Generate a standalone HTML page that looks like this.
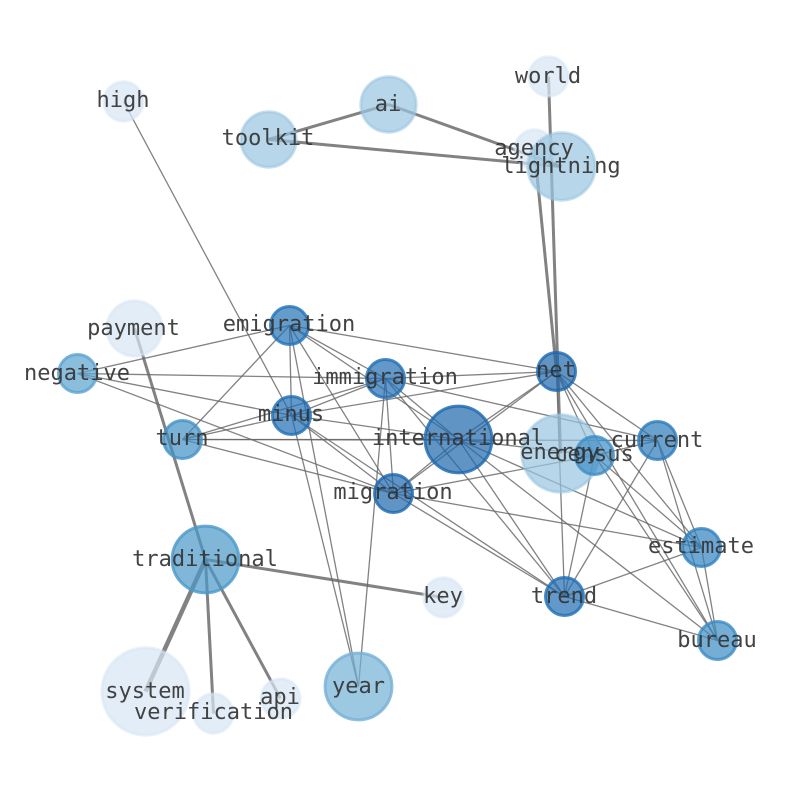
<!DOCTYPE html>
<html><head><meta charset="utf-8">
<style>html,body{margin:0;padding:0;background:#fff;width:794px;height:790px;overflow:hidden}svg{display:block}
text{font-family:"DejaVu Sans Mono","Liberation Mono",monospace;font-size:22px;fill:#333;fill-opacity:.92;text-anchor:middle}
.t line{stroke:#666;stroke-opacity:.82;stroke-width:1.3}
.b line{stroke:#666;stroke-opacity:.82;stroke-width:3}
circle{fill-opacity:.7;stroke-opacity:.55;stroke-width:3}
circle.d{stroke-opacity:.8}
</style></head><body>
<svg width="794" height="790" viewBox="0 0 794 790" xmlns="http://www.w3.org/2000/svg">
<g transform="translate(.5 .5)">
<g class="t">
<line x1="123" y1="101" x2="291" y2="415"/>
<line x1="77" y1="373" x2="289" y2="325"/>
<line x1="77" y1="373" x2="385" y2="378"/>
<line x1="77" y1="373" x2="291" y2="415"/>
<line x1="77" y1="373" x2="393" y2="493"/>
<line x1="289" y1="325" x2="556" y2="371"/>
<line x1="289" y1="325" x2="385" y2="378"/>
<line x1="289" y1="325" x2="291" y2="415"/>
<line x1="289" y1="325" x2="182" y2="439"/>
<line x1="289" y1="325" x2="458" y2="439"/>
<line x1="289" y1="325" x2="393" y2="493"/>
<line x1="289" y1="325" x2="358" y2="686"/>
<line x1="385" y1="378" x2="556" y2="371"/>
<line x1="385" y1="378" x2="291" y2="415"/>
<line x1="385" y1="378" x2="182" y2="439"/>
<line x1="385" y1="378" x2="458" y2="439"/>
<line x1="385" y1="378" x2="393" y2="493"/>
<line x1="385" y1="378" x2="358" y2="686"/>
<line x1="385" y1="378" x2="564" y2="596"/>
<line x1="385" y1="378" x2="657" y2="440"/>
<line x1="291" y1="415" x2="556" y2="371"/>
<line x1="291" y1="415" x2="182" y2="439"/>
<line x1="291" y1="415" x2="458" y2="439"/>
<line x1="291" y1="415" x2="393" y2="493"/>
<line x1="291" y1="415" x2="564" y2="596"/>
<line x1="291" y1="415" x2="358" y2="686"/>
<line x1="182" y1="439" x2="458" y2="439"/>
<line x1="182" y1="439" x2="657" y2="440"/>
<line x1="182" y1="439" x2="393" y2="493"/>
<line x1="458" y1="439" x2="556" y2="371"/>
<line x1="393" y1="493" x2="556" y2="371"/>
<line x1="458" y1="439" x2="393" y2="493"/>
<line x1="458" y1="439" x2="564" y2="596"/>
<line x1="458" y1="439" x2="594" y2="455"/>
<line x1="458" y1="439" x2="701" y2="547"/>
<line x1="458" y1="439" x2="717" y2="640"/>
<line x1="393" y1="493" x2="594" y2="455"/>
<line x1="393" y1="493" x2="701" y2="547"/>
<line x1="393" y1="493" x2="564" y2="596"/>
<line x1="556" y1="371" x2="657" y2="440"/>
<line x1="556" y1="371" x2="594" y2="455"/>
<line x1="556" y1="371" x2="564" y2="596"/>
<line x1="556" y1="371" x2="701" y2="547"/>
<line x1="556" y1="371" x2="717" y2="640"/>
<line x1="594" y1="455" x2="657" y2="440"/>
<line x1="594" y1="455" x2="701" y2="547"/>
<line x1="594" y1="455" x2="717" y2="640"/>
<line x1="594" y1="455" x2="564" y2="596"/>
<line x1="657" y1="440" x2="564" y2="596"/>
<line x1="657" y1="440" x2="701" y2="547"/>
<line x1="657" y1="440" x2="717" y2="640"/>
<line x1="701" y1="547" x2="564" y2="596"/>
<line x1="701" y1="547" x2="717" y2="640"/>
<line x1="564" y1="596" x2="717" y2="640"/>
</g>
<g class="b">
<line x1="268" y1="139" x2="388" y2="104"/>
<line x1="388" y1="104" x2="561" y2="166"/>
<line x1="268" y1="139" x2="561" y2="166"/>
<line x1="548" y1="76" x2="560" y2="453"/>
<line x1="534" y1="149" x2="556" y2="371"/>
<line x1="134" y1="328" x2="205" y2="559"/>
<line x1="205" y1="559" x2="145" y2="691" style="stroke-width:4.5"/>
<line x1="205" y1="559" x2="213" y2="713"/>
<line x1="205" y1="559" x2="280" y2="698"/>
<line x1="205" y1="559" x2="443" y2="597"/>
</g>
<g>
<circle cx="123" cy="101" r="19.7" fill="#d7e6f4" stroke="#d7e6f4"/>
<circle cx="268" cy="139" r="27.7" fill="#98c4e0" stroke="#98c4e0"/>
<circle cx="388" cy="104" r="27.7" fill="#98c4e0" stroke="#98c4e0"/>
<circle cx="548" cy="76" r="19.7" fill="#d7e6f4" stroke="#d7e6f4"/>
<circle cx="534" cy="149" r="19.7" fill="#d7e6f4" stroke="#d7e6f4"/>
<circle cx="561" cy="166" r="33.7" fill="#98c4e0" stroke="#98c4e0"/>
<circle cx="134" cy="328" r="27.7" fill="#d7e6f4" stroke="#d7e6f4"/>
<circle class="d" cx="289" cy="325" r="19" fill="#2272b6" stroke="#2272b6"/>
<circle class="d" cx="77" cy="373" r="19" fill="#5aa2cf" stroke="#5aa2cf"/>
<circle class="d" cx="385" cy="378" r="19" fill="#1f6eb3" stroke="#1f6eb3"/>
<circle class="d" cx="556" cy="371" r="19" fill="#1c66ad" stroke="#1c66ad"/>
<circle class="d" cx="291" cy="415" r="19" fill="#1f6eb3" stroke="#1f6eb3"/>
<circle class="d" cx="182" cy="439" r="19" fill="#4292c6" stroke="#4292c6"/>
<circle class="d" cx="458" cy="439" r="33.4" fill="#1c66ad" stroke="#1c66ad"/>
<circle cx="560" cy="453" r="38.7" fill="#98c4e0" stroke="#98c4e0"/>
<circle class="d" cx="594" cy="455" r="19" fill="#3d8dc4" stroke="#3d8dc4"/>
<circle class="d" cx="657" cy="440" r="19" fill="#2b7bba" stroke="#2b7bba"/>
<circle class="d" cx="393" cy="493" r="19" fill="#1c66ad" stroke="#1c66ad"/>
<circle class="d" cx="205" cy="559" r="33.4" fill="#4a98c9" stroke="#4a98c9"/>
<circle class="d" cx="701" cy="547" r="19" fill="#3181bd" stroke="#3181bd"/>
<circle cx="443" cy="597" r="19.7" fill="#d7e6f4" stroke="#d7e6f4"/>
<circle class="d" cx="564" cy="596" r="19" fill="#1f6eb3" stroke="#1f6eb3"/>
<circle class="d" cx="717" cy="640" r="19" fill="#3b8bc2" stroke="#3b8bc2"/>
<circle cx="145" cy="691" r="43.7" fill="#d7e6f4" stroke="#d7e6f4"/>
<circle cx="213" cy="713" r="19.7" fill="#d7e6f4" stroke="#d7e6f4"/>
<circle cx="280" cy="698" r="19.7" fill="#d7e6f4" stroke="#d7e6f4"/>
<circle class="d" cx="358" cy="686" r="33.4" fill="#74b0d6" stroke="#74b0d6"/>
</g>
</g>
<g>
<text x="123" y="107">high</text>
<text x="268" y="145">toolkit</text>
<text x="388" y="111">ai</text>
<text x="548" y="83">world</text>
<text x="534" y="155">agency</text>
<text x="561" y="173">lightning</text>
<text x="133.500" y="335">payment</text>
<text x="289" y="331">emigration</text>
<text x="77" y="380">negative</text>
<text x="385" y="384">immigration</text>
<text x="556" y="377">net</text>
<text x="291" y="421">minus</text>
<text x="182" y="445">turn</text>
<text x="458" y="445">international</text>
<text x="560" y="459">energy</text>
<text x="594" y="461">census</text>
<text x="657" y="447">current</text>
<text x="393" y="499">migration</text>
<text x="205" y="566">traditional</text>
<text x="701" y="553">estimate</text>
<text x="443" y="603">key</text>
<text x="564" y="603">trend</text>
<text x="717" y="647">bureau</text>
<text x="145" y="698">system</text>
<text x="213.500" y="719">verification</text>
<text x="280" y="704">api</text>
<text x="358.500" y="693">year</text>
</g>
</svg>
</body></html>
